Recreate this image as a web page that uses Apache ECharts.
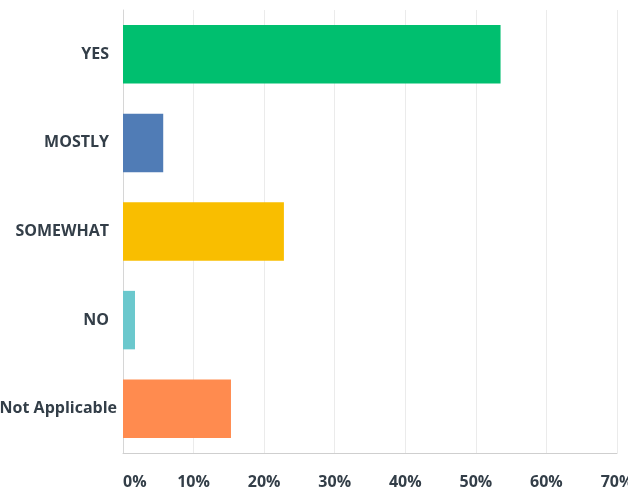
<!DOCTYPE html>
<html>
<head>
<meta charset="utf-8">
<script src="https://cdn.jsdelivr.net/npm/echarts@6/dist/echarts.min.js"></script>
<style>
  html, body { margin: 0; padding: 0; background: #ffffff; }
  #chart { width: 628px; height: 488px; }
</style>
</head>
<body>
<div id="chart"></div>
<script>
// Answer choices, top to bottom
const categories = ['YES', 'MOSTLY', 'SOMEWHAT', 'NO', 'Not Applicable'];
// Share of respondents per answer (%)
const percents = [53.5, 5.7, 22.8, 1.7, 15.3];
// One colour per answer
const barColors = ['#00bf6f', '#507cb6', '#f9be00', '#6bc8cd', '#ff8b4f'];
// Horizontal scale, in percent
const xTicks = [0, 10, 20, 30, 40, 50, 60, 70];

const textColor = '#333e48';
const fontFamily = '"Open Sans", "Liberation Sans", sans-serif';

const chart = echarts.init(document.getElementById('chart'), null, { renderer: 'canvas' });

// The longest answer label sits flush with the left edge instead of the axis gutter
const yLabels = categories.map(c => c === 'Not Applicable'
  ? { value: c, textStyle: { padding: [2, -8, 0, 0] } }
  : c);

chart.setOption({
  animation: false,
  backgroundColor: '#ffffff',
  grid: {
    left: 123, right: 11, top: 10, bottom: 35,
    containLabel: false,
    outerBoundsMode: 'none'
  },
  xAxis: {
    type: 'value',
    min: xTicks[0],
    max: xTicks[xTicks.length - 1],
    interval: xTicks[1] - xTicks[0],
    axisLine: { show: true, lineStyle: { color: '#cfcfcf', width: 1 } },
    axisTick: { show: false },
    splitLine: { show: true, lineStyle: { color: '#ebebeb', width: 1 } },
    axisLabel: {
      color: textColor,
      fontFamily: fontFamily,
      fontWeight: 'bold',
      fontSize: 16,
      margin: 21,
      alignMinLabel: 'left',
      alignMaxLabel: 'center',
      formatter: v => v + '%'
    }
  },
  yAxis: {
    type: 'category',
    data: yLabels,
    inverse: true,
    axisLine: { show: true, lineStyle: { color: '#d6d6d6', width: 1 } },
    axisTick: { show: false },
    splitLine: { show: false },
    axisLabel: {
      color: textColor,
      fontFamily: fontFamily,
      fontWeight: 'bold',
      fontSize: 16,
      margin: 14,
      padding: [2, 0, 0, 0]
    }
  },
  series: [{
    type: 'bar',
    data: percents.map((v, i) => ({ value: v, itemStyle: { color: barColors[i] } })),
    barWidth: '66%',
    silent: true
  }]
});
</script>
</body>
</html>
